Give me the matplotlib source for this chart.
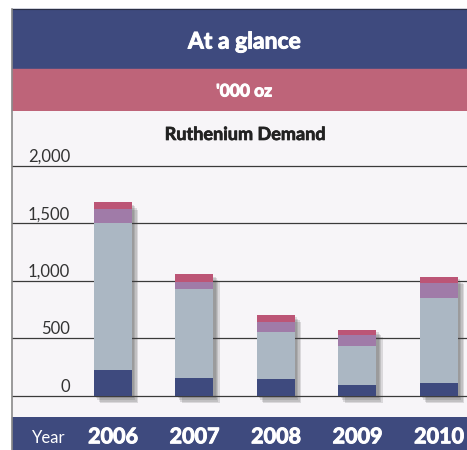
import matplotlib
matplotlib.use("Agg")
import matplotlib.pyplot as plt
import matplotlib.patheffects as pe
from matplotlib.patches import Rectangle
from matplotlib.lines import Line2D

years = ["2006", "2007", "2008", "2009", "2010"]
chemical = [224, 157, 148, 96, 108]
electrical = [1278, 770, 404, 334, 746]
electrochemical = [127, 66, 93, 96, 130]
other = [56, 64, 61, 49, 50]
yticks = [0, 500, 1000, 1500, 2000]
ytick_labels = ["0", "500", "1,000", "1,500", "2,000"]

navy = "#3e4a7e"
rose = "#be6479"
panel = "#f7f5f8"
seg_colors = [navy, "#abb7c3", "#a07ba8", "#bc5576"]

W, H = 467, 450
plt.rcParams["font.family"] = ["Lato", "DejaVu Sans"]

fig = plt.figure(figsize=(W / 100, H / 100), dpi=100)
fig.patch.set_facecolor("white")

def fx(px):
    return px / W

def fy(py):
    return 1 - py / H

# heavier look for the bold Futura-like headings
heavy_w = [pe.withStroke(linewidth=0.7, foreground="white")]
heavy_k = [pe.withStroke(linewidth=0.5, foreground="#222222")]

# header bands and bottom strip
fig.patches.append(Rectangle((fx(12), fy(69.3)), fx(455), 60.3 / H,
                             transform=fig.transFigure, color=navy, zorder=-1))
fig.patches.append(Rectangle((fx(12), fy(111)), fx(455), 41.7 / H,
                             transform=fig.transFigure, color=rose, zorder=-1))
fig.patches.append(Rectangle((fx(12), 0), fx(455), 33.3 / H,
                             transform=fig.transFigure, color=navy, zorder=-1))
fig.lines.append(Line2D([fx(12), 1], [fy(9), fy(9)], transform=fig.transFigure,
                        color="#2a2f45", lw=0.8))
fig.lines.append(Line2D([fx(12), fx(12)], [fy(9), 0], transform=fig.transFigure,
                        color="#8a8a8a", lw=1.2))

fig.text(fx(244), fy(48.5), "At a glance", color="white", fontsize=16.5,
         fontweight="bold", ha="center", va="baseline", path_effects=heavy_w)
fig.text(fx(244), fy(96.5), "'000 oz", color="white", fontsize=12.5,
         fontweight="bold", ha="center", va="baseline", path_effects=heavy_w)

ax = fig.add_axes([fx(12), 33.3 / H, fx(455), 305.7 / H])
ax.set_facecolor(panel)
ax.set_xlim(-1.239, 4.344)
ax.set_ylim(-183, 2479)
for s in ax.spines.values():
    s.set_visible(False)
ax.set_xticks([])
ax.set_yticks([])

fig.text(fx(245), fy(140), "Ruthenium Demand", color="#222222", fontsize=13,
         fontweight="bold", ha="center", va="baseline", path_effects=heavy_k)

for v, lab in zip(yticks, ytick_labels):
    ax.axhline(v, color="#3a3a3a", lw=0.9, zorder=1)
    ax.text(0.1275, v + 36, lab, transform=ax.get_yaxis_transform(),
            ha="right", va="baseline", fontsize=12, color="#333333")

x = list(range(len(years)))
totals = [a + b + c + d for a, b, c, d in zip(chemical, electrical, electrochemical, other)]

shadow = [pe.SimplePatchShadow(offset=(o, -o * 1.2), shadow_rgbFace="#444444", alpha=0.16)
          for o in (1.5, 2.5, 3.5, 4.5)]
ax.bar(x, totals, width=0.466, color=panel, zorder=2, path_effects=shadow)

bottom = [0] * len(years)
for vals, col in zip([chemical, electrical, electrochemical, other], seg_colors):
    ax.bar(x, vals, width=0.466, bottom=bottom, color=col, zorder=3, lw=0)
    bottom = [b + v for b, v in zip(bottom, vals)]

yr_y = (416.7 - 443.3) / 305.7
for xi, yr in zip(x, years):
    ax.text(xi, yr_y, yr, transform=ax.get_xaxis_transform(), ha="center",
            va="baseline", fontsize=15.5, fontweight="bold", color="white",
            clip_on=False, path_effects=heavy_w)
fig.text(fx(31.5), fy(443.3), "Year", color="white", fontsize=12,
         ha="left", va="baseline")

fig.savefig("out.png", dpi=100)
